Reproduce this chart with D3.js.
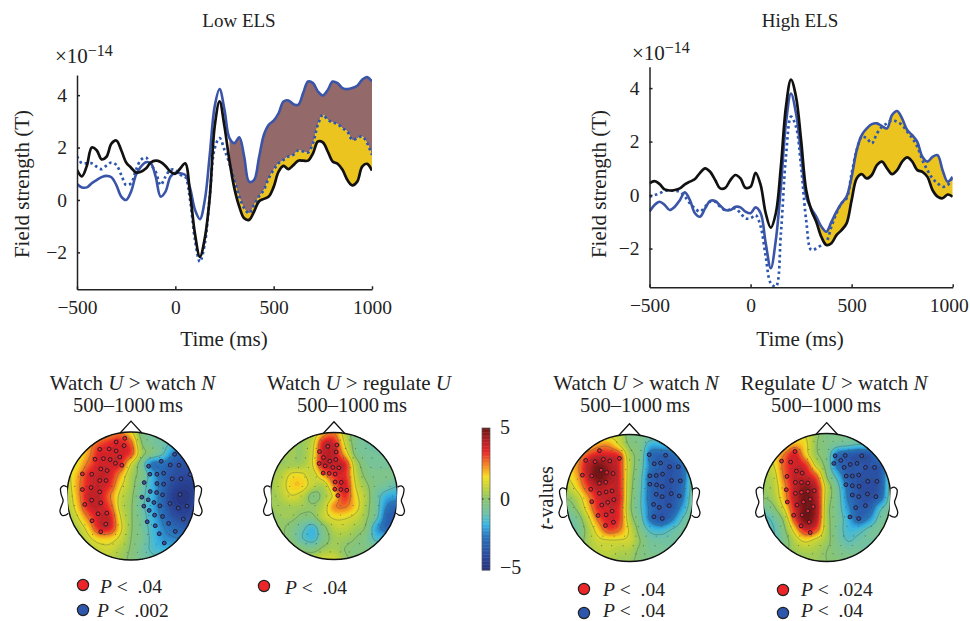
<!DOCTYPE html>
<html><head><meta charset="utf-8"><title>Low and High ELS field strength and topographies</title>
<script src="https://cdn.jsdelivr.net/npm/d3@7/dist/d3.min.js"></script>
<style>html,body{margin:0;padding:0;background:#fff}svg{display:block}text{font-family:"Liberation Serif",serif;fill:#222}</style>
</head><body><svg id="c" width="970" height="621"></svg>
<script>
// ---- waveform data (×10^-14 T), sampled every 25 ms from -500 to 1000 ms
const timeMs = d3.range(-500, 1001, 25);
const lowBlack = [1.15,.9,1.3,2.0,1.9,1.55,1.65,2.15,2.27,1.9,1.43,1.23,1.05,1.08,1.2,1.43,1.5,1.45,1.3,1.08,1.0,1.2,1.4,.25,-1.3,-2.17,-1.45,.1,2.8,3.76,2.8,1.5,.45,-.25,-.7,-.76,-.45,-.06,.04,.13,.5,1.08,1.3,1.18,1.33,1.5,1.5,1.5,1.78,2.23,2.2,1.85,1.47,1.38,1.15,.76,.56,.7,1.27,1.38,1.12];
const lowBlue = [.61,.48,.48,.64,.76,.87,.92,.87,.57,.13,0,.32,.96,1.27,1.44,1.4,.89,.13,.32,.89,1.04,1.02,.96,.45,-.38,-.73,0,1.72,3.57,4.23,3.44,2.36,2.17,2.39,1.66,.7,.76,1.6,2.48,2.87,3.03,3.31,3.76,3.8,3.66,3.63,4.08,4.52,4.46,4.14,3.99,4.2,4.52,4.46,4.27,4.23,4.27,4.36,4.59,4.69,4.52];
const lowDotted = [1.66,1.4,1.4,1.4,1.27,1.18,1.31,1.43,1.34,.96,.57,.64,1.15,1.53,1.62,1.34,1.08,.57,.89,1.15,1.15,.96,.89,0,-1.53,-2.36,-1.66,.13,1.97,2.36,1.91,1.4,.76,.13,-.32,-.51,-.19,.13,.38,.83,1.15,1.4,1.53,1.66,1.72,1.89,1.85,1.81,2.17,2.87,3.25,3.06,2.96,2.9,2.74,2.61,2.29,2.36,2.42,2.17,1.72];
const highBlack = [.44,.52,.41,.21,.17,.19,.25,.4,.5,.6,.83,1.0,.87,.56,.25,.27,.56,.75,.62,.27,.31,.83,.37,-.68,-1.22,-.68,1.06,3.3,4.32,3.67,2.05,.19,-.56,-1.0,-1.56,-1.87,-1.8,-1.5,-1.31,-1.06,-.19,.62,.78,.62,.75,1.12,1.25,1.0,.78,.93,1.25,1.41,1.25,.93,.87,.68,.19,-.06,-.12,.02,-.06];
const highBlue = [-.62,-.37,-.25,-.37,-.56,-.44,-.19,.1,-.19,-.68,-.81,-.5,-.22,-.22,-.4,-.56,-.56,-.44,-.46,-.62,-.68,-.46,-.68,-1.8,-2.74,-1.68,.31,2.68,3.8,3.05,1.56,-.06,-.5,-.81,-1.18,-1.37,-1.0,-.62,-.31,-.06,.68,1.68,2.24,2.49,2.65,2.68,2.58,2.49,2.99,3.14,2.86,2.43,2.24,1.99,1.43,1.25,1.43,1.49,.93,.5,.68];
const highDotted = [-.06,0,.06,.16,.16,.16,.12,-.06,-.31,-.5,-.62,-.44,-.25,-.25,-.44,-.56,-.54,-.5,-.68,-.87,-.87,-.75,-1.18,-2.3,-3.3,-3.42,-1.43,1.43,2.93,2.55,1.06,-.93,-2.05,-2.0,-1.87,-1.74,-1.18,-.68,-.31,-.12,.81,1.68,2.18,2.12,1.93,2.3,2.55,2.68,2.8,2.74,2.62,2.37,2.12,1.81,1.31,.93,.62,.44,.31,.37,.68];
const xTicks = [-500, 0, 500, 1000];
const yTicks = [-2, 0, 2, 4];

// ---- topography t-values, 13 × 13 grid over the head square (rows top to bottom)
const fieldA = [
[1.5,1.5,1.5,1.5,2,2.5,1.5,-.4,-.7,-.8,-1,-1,-1],
[1.5,1.5,2,2.8,3.3,3.5,2.7,0,-.7,-1,-1.3,-1.5,-1.5],
[1,1.3,2.2,3.5,3.6,3.7,3,.4,-.4,-1.2,-2.5,-3.3,-3.3],
[1,1.5,2.7,3.6,3.7,3.4,1.2,-.6,-2.6,-2.7,-3.4,-3.7,-3.5],
[1,2,3.4,3.8,3.6,2.2,.5,-.4,-1.9,-3,-3.7,-4,-3.9],
[.8,2.2,3.5,3.8,3.3,1.5,.4,-.8,-1.8,-3,-4,-4.4,-4.2],
[.6,2.1,3.7,3.8,2.6,1,.2,-1,-1.8,-3.1,-4.4,-4.8,-4.3],
[.5,1.8,3.5,3.8,3,.9,.1,-1,-1.9,-3,-4.2,-4.5,-4],
[.2,1.2,2.6,3.7,3.6,1.3,.1,-.8,-1.8,-2.7,-3.6,-4,-3.8],
[.2,.6,1.7,3.4,3.5,1.5,.1,-.7,-1.6,-2.4,-2.9,-3.3,-3.3],
[0,.3,1,1.7,1.7,1,0,-.6,-1.5,-2.2,-2.4,-2.5,-2.5],
[0,.2,.5,.9,1,.5,-.1,-.8,-1.4,-1.7,-1.8,-1.8,-1.8],
[0,.2,.5,.7,.6,.3,-.2,-.7,-1,-1.2,-1.2,-1.2,-1.2]];
const fieldB = [
[.3,.3,.3,.3,.5,2,2.5,.8,-.5,-.6,-.7,-.7,-.7],
[.3,.3,.3,.2,1,3.5,3.5,1.2,-.4,-.8,-.8,-.8,-.8],
[.3,.3,.3,.2,1.2,3.7,3.8,2,-.2,-.7,-.8,-.8,-.8],
[.3,.2,.3,.4,1.3,3.7,3.8,3.5,.7,-.5,-.7,-.7,-.7],
[.3,.6,1.4,1.4,.9,2.2,3.3,3.4,1,-.2,-.5,-.5,-.5],
[.3,.8,1.7,1.7,.8,.6,2.5,3.7,1.3,.2,-.5,-.8,-1.2],
[.2,.6,1.2,.8,-.3,.3,1.5,3.3,1.6,.5,-.8,-1.8,-2],
[.2,.3,.4,.3,.1,.7,2.3,2.6,1.7,.4,-.8,-2.5,-3],
[.1,.2,.2,-.2,-.2,.8,1.4,1.4,1,.2,-1,-3,-3.5],
[0,.1,-.3,-1,-1.6,-.3,.7,.8,.4,-.1,-2,-3,-3.2],
[0,.1,-.3,-1.2,-1.6,-.5,.3,.3,0,-.5,-1.5,-1.5,-1.5],
[.1,.2,.2,-.2,-.4,.2,.4,0,-.3,-.4,-.5,-.5,-.5],
[.3,.3,.5,.6,.7,1,1,.2,-.2,-.3,-.3,-.3,-.3]];
const fieldC = [
[.8,.8,.8,1,1,.8,-.4,-.5,-.7,-.8,-.8,-.8,-.8],
[1.5,1.5,1.5,2.2,2.3,1.3,-.1,-.5,-1.8,-1.8,-1.6,-1.1,-.8],
[1.5,1.8,3,3.6,3.6,3.2,.5,-.5,-2.8,-3.2,-3,-1.9,-1],
[1.5,2.2,3.8,4.8,4.3,3.4,.7,-.7,-2.6,-3.3,-3.6,-2.8,-1],
[1.2,2,3.6,4.9,4.4,3.5,.6,-.9,-3,-3.5,-3.6,-3,-.9],
[.6,1.5,3,4,3.9,3.5,.5,-1,-3,-3.5,-3.6,-2.8,-.8],
[0,.6,2.1,3.5,3.9,3.6,.4,-1.1,-3,-3.5,-3.6,-2.6,-.7],
[-.5,.1,1.6,3.3,3.7,3.3,.3,-1.1,-2.8,-3.5,-3.4,-2,-.6],
[-1,-.6,.8,2.6,3.6,3.2,.6,-.8,-2.7,-3.5,-2.6,-1.2,-.6],
[-1,-.8,.3,1.7,3,2.6,1.1,-.4,-1.5,-1.7,-1.2,-.8,-.6],
[-.8,-.6,.3,1,1.2,1.2,1,0,-.8,-.9,-.9,-.7,-.6],
[-.5,-.3,.3,.7,.8,.6,.5,-.2,-.6,-.7,-.7,-.6,-.6],
[-.2,-.2,.2,.5,.5,.3,.2,-.3,-.4,-.4,-.4,-.4,-.4]];
const fieldD = [
[.8,.8,.8,1,1.2,.2,-.4,-.5,-.6,-.6,-.6,-.6,-.6],
[1.3,1.3,1.3,2,1.5,.1,-.4,-.8,-1,-1.2,-1.2,-1,-1],
[1.3,1.5,2.5,3.6,1.8,.2,-.5,-2.7,-3.3,-3.6,-3.5,-1.8,-1.2],
[1,1.2,2.8,3.7,3.3,1,-.4,-2.7,-3.4,-3.5,-3.6,-3.3,-1.2],
[.5,.8,2.6,3.8,3.8,2.8,0,-1.6,-3.3,-3.6,-3.7,-3.4,-1],
[.2,.6,2.2,3.8,4.6,3.7,.8,-.9,-2.8,-3.7,-3.9,-3.4,-.9],
[0,.4,2,3.8,4.9,4,.7,-.7,-2.6,-3.5,-3.7,-3,-.8],
[-.8,-.2,1.3,3.5,4.9,4.2,.5,-.7,-2.2,-3.3,-3.2,-1.5,-.7],
[-1.5,-1,.3,3,4.9,4,.5,-.6,-1.8,-3,-2.3,-.9,-.6],
[-1.5,-1.3,-.2,1.7,3.5,3,.5,-.7,-1.6,-1.6,-1,-.6,-.5],
[-1,-1.2,-.5,.7,1.5,1,.3,-.6,-1.3,-1,-.8,-1,-1],
[-.5,-.6,-.2,.3,.5,.4,0,-.4,-.7,-.7,-1,-1.4,-1.4],
[-.3,-.3,0,.2,.2,.2,0,-.2,-.4,-.4,-.5,-.7,-.7]];

// ---- significant sensors, as map coordinates read per head
const redA = [[285,204],[259,215],[283,226],[210,237],[238,236],[259,242],[270,260],[196,267],[221,265],[241,268],[257,279],[276,285],[213,296],[232,301],[158,311],[186,312],[210,331],[229,331],[184,352],[158,358],[210,365],[186,390],[165,403],[213,398],[205,431],[231,429],[187,452],[228,462],[213,485]];
const blueA = [[434,252],[394,273],[421,284],[447,285],[356,288],[360,312],[381,312],[401,309],[480,313],[427,326],[453,326],[343,337],[381,340],[401,342],[361,364],[380,367],[398,374],[450,373],[336,381],[355,389],[372,397],[390,407],[342,408],[358,421],[420,400],[445,414],[471,408],[374,435],[398,439],[460,447],[352,455],[376,467],[416,460],[436,484],[388,491],[403,519]];
const redB = [[291,223],[264,227],[239,243],[289,244],[251,261],[288,267],[270,272],[238,279],[256,286],[279,291],[297,292],[250,308],[268,309],[286,311],[286,335],[304,336],[285,357],[303,358],[321,360],[294,376]];
const blueB = [];
const redC = [[178,243],[137,272],[165,276],[190,269],[209,274],[238,266],[183,301],[200,308],[219,311],[127,316],[155,318],[197,337],[178,340],[152,358],[198,366],[216,363],[178,370],[221,389],[155,395],[185,405],[203,397],[216,423],[198,434],[174,436],[220,456],[196,466]];
const blueC = [[327,255],[376,257],[342,282],[361,280],[414,291],[388,291],[367,313],[329,318],[348,317],[420,333],[394,332],[329,343],[349,345],[366,350],[348,373],[366,380],[393,371],[417,378],[340,403],[357,412],[387,407],[341,440],[366,445]];
const redD = [[196,244],[156,273],[183,276],[200,303],[217,309],[172,319],[197,337],[215,337],[234,339],[170,359],[197,370],[215,367],[234,364],[253,362],[241,388],[221,396],[173,396],[202,405],[250,410],[234,423],[192,436],[217,435],[238,456],[214,468],[241,488]];
const blueD = [[315,257],[345,256],[394,257],[332,271],[311,280],[360,283],[380,280],[342,292],[405,292],[432,292],[348,318],[366,318],[385,315],[412,334],[439,334],[347,344],[366,347],[386,349],[411,372],[436,380],[366,375],[385,380],[405,407],[376,413],[359,441],[385,446]];
// background sensor layout: [row position, column positions...] in head units
const sensorRows = [
[-.88,-.2,-.05,.1,.25],[-.75,-.42,-.28,-.12,.03,.18,.34,.5],[-.6,-.6,-.45,-.3,-.15,0,.15,.3,.45,.6],[-.45,-.72,-.56,-.4,-.22,-.06,.1,.26,.42,.58,.74],
[-.3,-.82,-.64,-.46,-.28,-.1,.08,.26,.44,.62,.82],[-.15,-.88,-.7,-.5,-.3,-.12,.06,.24,.44,.64,.88],[0,-.92,-.72,-.52,-.32,-.12,.08,.28,.48,.7,.92],[.15,-.88,-.7,-.5,-.3,-.1,.1,.3,.5,.7,.88],
[.3,-.84,-.64,-.44,-.26,-.08,.1,.28,.46,.64,.84],[.45,-.72,-.56,-.38,-.2,-.04,.14,.32,.5,.7],[.6,-.6,-.42,-.24,-.08,.1,.26,.42,.6],[.75,-.44,-.28,-.1,.06,.22,.4],[.88,-.22,-.06,.1,.24]];

// ---- colour scale of the t-values
const tStops = [-5,-3.8,-2.6,-1.8,-1,0,.54,1.6,2.5,3.36,4.18,5];
const tColors = ["#25307a","#2b4ea3","#2a75bd","#38b5e5","#6fc2a8","#8cc56f","#b0cf48","#f5dd22","#f47c24","#e8262a","#b01f24","#6b1515"];
const cbTicks = [5, 0, -5];

const INK = "#222", BLUE = "#3a55a8", YELLOW = "#ecc420", BROWN = "#94696a", RED = "#ec2528", DOTBLUE = "#2c57ad";
const svg = d3.select("#c");
const minus = s => String(s).replace("-", "\u2212");

function waveform(o) {
  const x = d3.scaleLinear().domain([-500, 1000]).range(o.xr);
  const y = d3.scaleLinear().domain(o.yd).range(o.yr);
  const g = svg.append("g");
  const clip = "clip" + o.id;
  g.append("clipPath").attr("id", clip).append("rect")
    .attr("x", o.xr[0]).attr("y", o.yr[1]).attr("width", o.xr[1] - o.xr[0]).attr("height", o.yr[0] - o.yr[1]);
  const p = g.append("g").attr("clip-path", `url(#${clip})`);
  const curve = d3.curveCatmullRom.alpha(.5);
  const idx = timeMs.map((_, i) => i).filter(i => timeMs[i] >= o.fillFrom);
  o.fills.forEach(f => {
    p.append("path").attr("fill", f.color).attr("d",
      d3.area().curve(curve).x(i => x(timeMs[i])).y0(i => y(f.a[i])).y1(i => y(f.b[i]))(idx));
  });
  const line = d3.line().curve(curve).x((_, i) => x(timeMs[i])).y(v => y(v));
  p.append("path").attr("d", line(o.dotted)).attr("fill", "none").attr("stroke", DOTBLUE).attr("stroke-width", 2.7).attr("stroke-dasharray", "2.6,3");
  p.append("path").attr("d", line(o.blue)).attr("fill", "none").attr("stroke", BLUE).attr("stroke-width", 2.6);
  p.append("path").attr("d", line(o.black)).attr("fill", "none").attr("stroke", "#111").attr("stroke-width", 2.7);
  const ax = g.append("g").attr("transform", `translate(0,${o.yr[0]})`)
    .call(d3.axisBottom(x).tickValues(xTicks).tickSize(-3).tickSizeOuter(0).tickPadding(10.5).tickFormat(minus));
  const ay = g.append("g").attr("transform", `translate(${o.xr[0]},0)`)
    .call(d3.axisLeft(y).tickValues(yTicks).tickSize(-3).tickSizeOuter(0).tickPadding(10).tickFormat(minus));
  [ax, ay].forEach(a => {
    a.selectAll("path,line").attr("stroke", INK).attr("stroke-width", 1.5);
    a.selectAll("text").style("font-family", '"Liberation Serif",serif').style("font-size", "19.5px").attr("fill", INK);
  });
  ax.selectAll("text").filter(d => d === 1000).attr("dx", o.lastTickShift);
  g.append("text").attr("x", o.titleX).attr("y", 27).attr("text-anchor", "middle").style("font-size", "19px").text(o.title);
  g.append("text").attr("x", o.labelX).attr("y", 346).attr("text-anchor", "middle").style("font-size", "21px").text("Time (ms)");
  const e = g.append("text").attr("x", o.expX).attr("y", o.expY).style("font-size", "21px");
  e.append("tspan").text("\u00d710");
  e.append("tspan").attr("dy", -7).style("font-size", "16px").text("\u221214");
  g.append("text").attr("transform", `translate(${o.ylabelX},184) rotate(-90)`).attr("text-anchor", "middle").style("font-size", "21px").text("Field strength (T)");
}

waveform({id:"L", title:"Low ELS", titleX:239, labelX:224, xr:[77,372], yd:[-3.41,4.77], yr:[289.3,75], expX:55, expY:63, ylabelX:29, lastTickShift:0,
  fillFrom:275, black:lowBlack, blue:lowBlue, dotted:lowDotted,
  fills:[{a:lowBlue,b:lowDotted,color:BROWN},{a:lowDotted,b:lowBlack,color:YELLOW}]});
waveform({id:"H", title:"High ELS", titleX:800, labelX:800, xr:[649.5,952.7], yd:[-3.45,4.8], yr:[287.3,66.7], expX:632, expY:60, ylabelX:606, lastTickShift:-4,
  fillFrom:275, black:highBlack, blue:highBlue, dotted:highDotted,
  fills:[{a:highBlue,b:highBlack,color:YELLOW}]});

// ---- topographic maps
const tColor = d3.scaleLinear().domain(tStops).range(tColors).interpolate(d3.interpolateRgb).clamp(true);
const UP = 8;
function upsample(f) {
  const n = f.length, N = (n - 1) * UP + 1, out = new Float64Array(N * N);
  const cr = (a, b, c, d, t) => .5 * (2 * b + (c - a) * t + (2 * a - 5 * b + 4 * c - d) * t * t + (3 * b - a - 3 * c + d) * t * t * t);
  const at = (r, c) => f[Math.max(0, Math.min(n - 1, r))][Math.max(0, Math.min(n - 1, c))];
  for (let j = 0; j < N; j++) for (let i = 0; i < N; i++) {
    const r = Math.min(n - 2, Math.floor(j / UP)), c = Math.min(n - 2, Math.floor(i / UP));
    const v = (j - r * UP) / UP, u = (i - c * UP) / UP, col = [];
    for (let k = -1; k < 3; k++) col.push(cr(at(r + k, c - 1), at(r + k, c), at(r + k, c + 1), at(r + k, c + 2), u));
    out[j * N + i] = cr(col[0], col[1], col[2], col[3], v);
  }
  return {values: out, N};
}
function head(o) {
  const g = svg.append("g");
  const {cx, cy, r} = o;
  const hx = d3.scaleLinear().domain([-1, 1]).range([cx - r, cx + r]);
  const hy = d3.scaleLinear().domain([-1, 1]).range([cy - r, cy + r]);
  const clip = "head" + o.id;
  g.append("clipPath").attr("id", clip).append("circle").attr("cx", cx).attr("cy", cy).attr("r", r);
  const m = g.append("g").attr("clip-path", `url(#${clip})`);
  const {values, N} = upsample(o.field);
  const k = 2 * r / (N - 1);
  const proj = d3.geoTransform({point(px, py) { this.stream.point(cx - r + (px - .5) * k, cy - r + (py - .5) * k); }});
  const path = d3.geoPath(proj);
  const bands = d3.range(-5.2, 5.21, .2);
  m.append("circle").attr("cx", cx).attr("cy", cy).attr("r", r).attr("fill", tColor(-5));
  const contours = d3.contours().size([N, N]).smooth(true);
  bands.forEach(t => {
    m.append("path").attr("d", path(contours.contour(values, t))).attr("fill", tColor(t + .1)).attr("stroke", tColor(t + .1)).attr("stroke-width", .3);
  });
  [-3.75, -2.5, -1.25, 0, 1.25, 2.5, 3.75].forEach(t => {
    m.append("path").attr("d", path(contours.contour(values, t))).attr("fill", "none").attr("stroke", "#3c5a50").attr("stroke-opacity", .5).attr("stroke-width", .7);
  });
  sensorRows.forEach(row => row.slice(1).forEach(xv => {
    m.append("circle").attr("cx", hx(xv)).attr("cy", hy(row[0])).attr("r", .55).attr("fill", "#2f4a4a").attr("fill-opacity", .65);
  }));
  // outline, nose, ears
  const outline = d3.line().curve(d3.curveCatmullRom.alpha(.5)).x(d => hx(d[0])).y(d => hy(d[1]));
  g.append("circle").attr("cx", cx).attr("cy", cy).attr("r", r).attr("fill", "none").attr("stroke", "#111").attr("stroke-width", 1.4);
  g.append("path").attr("d", d3.line().x(d => hx(d[0])).y(d => hy(d[1]))(noseShape)).attr("fill", "none").attr("stroke", "#111").attr("stroke-width", 1.3);
  [1, -1].forEach(s => g.append("path").attr("d", outline(earShape.map(d => [s * d[0], d[1]]))).attr("fill", "#fff").attr("stroke", "#111").attr("stroke-width", 1.3));
  const sx = d3.scaleLinear().domain(o.mapX).range([cx - r, cx + r]);
  const sy = d3.scaleLinear().domain(o.mapY).range([cy - r, cy + r]);
  const mark = (pts, fill) => g.selectAll(null).data(pts).enter().append("circle")
    .attr("cx", d => sx(d[0])).attr("cy", d => sy(d[1])).attr("r", 1.9)
    .attr("fill", fill).attr("stroke", "#2a1a2a").attr("stroke-width", 1);
  mark(o.red, RED); mark(o.blue, DOTBLUE);
}
const noseShape = [[-.17,-.985],[0,-1.17],[.17,-.985]];
const earShape = [[1,-.14],[1.06,-.16],[1.1,-.12],[1.09,-.02],[1.06,.07],[1.09,.16],[1.11,.24],[1.08,.3],[1.02,.3],[.98,.27]];

head({id:"A", cx:131, cy:496, r:64, field:fieldA, red:redA, blue:blueA, mapX:[112,495], mapY:[185,570]});
head({id:"B", cx:334, cy:496, r:63.5, field:fieldB, red:redB, blue:blueB, mapX:[92,473], mapY:[185,570]});
head({id:"C", cx:629.5, cy:498, r:63.5, field:fieldC, red:redC, blue:blueC, mapX:[78,458], mapY:[195,573]});
head({id:"D", cx:826.7, cy:497.5, r:64, field:fieldD, red:redD, blue:blueD, mapX:[100,480], mapY:[190,575]});

// ---- head titles and legends
function title(x1, x2, parts) {
  const t = svg.append("text").attr("x", x1).attr("y", 390).attr("text-anchor", "middle").style("font-size", "21px");
  parts.forEach(p => t.append("tspan").style("font-style", p[1] ? "italic" : "normal").text(p[0]));
  svg.append("text").attr("x", x2).attr("y", 412).attr("text-anchor", "middle").style("font-size", "20.5px").text("500\u20131000\u2009ms");
}
title(132.5, 128, [["Watch "],["U",1],[" > watch "],["N",1]]);
title(359, 352, [["Watch "],["U",1],[" > regulate "],["U",1]]);
title(636, 635, [["Watch "],["U",1],[" > watch "],["N",1]]);
title(834, 826, [["Regulate "],["U",1],[" > watch "],["N",1]]);
function legend(cx, cy, tx, ty, fill, label) {
  svg.append("circle").attr("cx", cx).attr("cy", cy).attr("r", 5.6).attr("fill", fill).attr("stroke", "#222").attr("stroke-width", 1.2);
  const t = svg.append("text").attr("x", tx).attr("y", ty).style("font-size", "19.5px");
  t.append("tspan").style("font-style", "italic").text("P");
  t.append("tspan").attr("xml:space", "preserve").text(" <  " + label);
}
legend(83, 585, 100, 593, RED, ".04");
legend(83, 610, 97, 616.5, DOTBLUE, ".002");
legend(264, 586, 285, 594, RED, ".04");
legend(584, 589, 603, 596, RED, ".04");
legend(584, 613, 603, 616.5, DOTBLUE, ".04");
legend(783, 590, 801, 596, RED, ".024");
legend(783, 613, 801, 616.5, DOTBLUE, ".04");

// ---- colour bar
const cbY = d3.scaleLinear().domain([-5, 5]).range([570, 428]);
const cbVals = d3.range(-5, 5, .1);
svg.selectAll(null).data(cbVals).enter().append("rect")
  .attr("x", 482).attr("width", 8).attr("y", d => cbY(d + .1)).attr("height", d => cbY(d) - cbY(d + .1) + .4)
  .attr("fill", d => tColor(d + .05));
svg.append("rect").attr("x", 482).attr("y", 428).attr("width", 8).attr("height", 142).attr("fill", "none").attr("stroke", "#555").attr("stroke-width", .7);
[482, 488.5].forEach(x0 => svg.append("line").attr("x1", x0).attr("x2", x0 + 1.5).attr("y1", cbY(0)).attr("y2", cbY(0)).attr("stroke", "#222"));
svg.selectAll(null).data(cbTicks).enter().append("text")
  .attr("x", 500).attr("y", d => cbY(d) + (d > 0 ? 6 : d < 0 ? 4 : 7)).style("font-size", "20px").text(minus);
const tv = svg.append("text").attr("transform", "translate(553,498) rotate(-90)").attr("text-anchor", "middle").style("font-size", "20px");
tv.append("tspan").style("font-style", "italic").text("t");
tv.append("tspan").text("-values");
</script></body></html>
